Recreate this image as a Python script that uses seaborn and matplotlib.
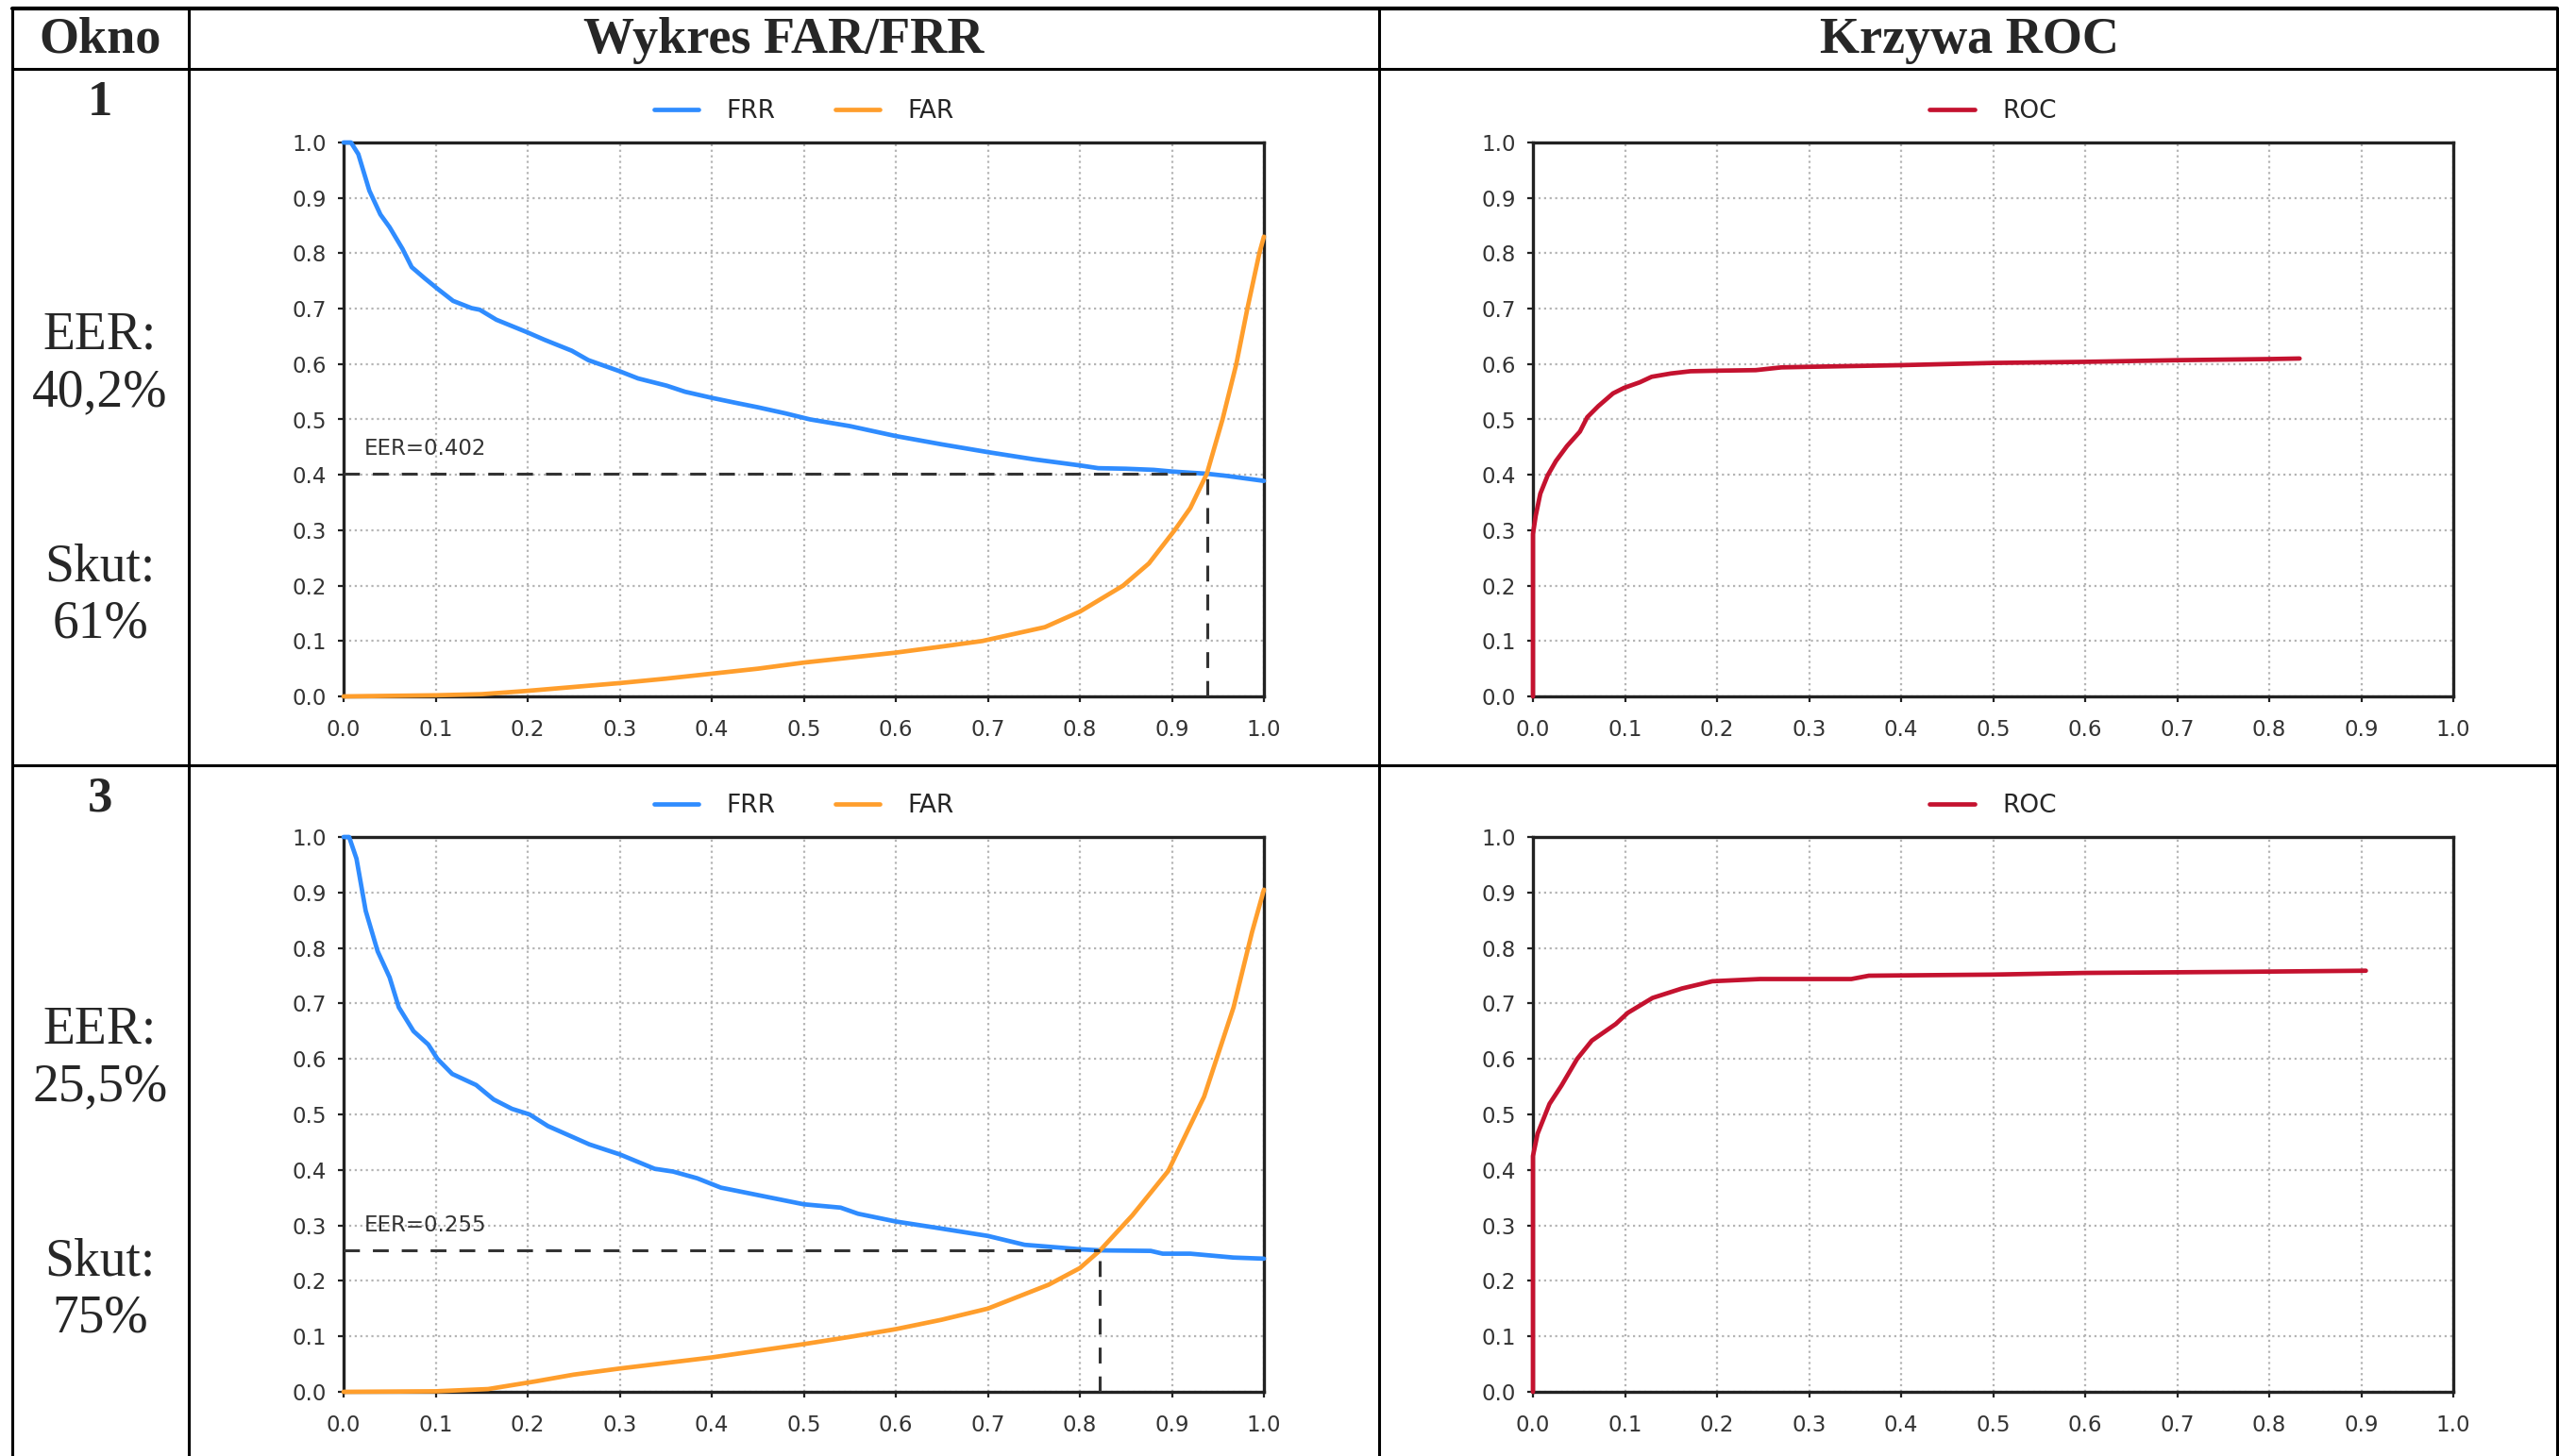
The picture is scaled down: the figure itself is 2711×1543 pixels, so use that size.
import matplotlib
matplotlib.use("Agg")
import matplotlib.pyplot as plt
import seaborn as sns
import pandas as pd
from matplotlib.lines import Line2D

# ---------------- data ----------------
frr1_x = [0, 0.008, 0.016, 0.028, 0.04, 0.05, 0.064, 0.074, 0.088, 0.102, 0.119, 0.139, 0.148, 0.166,
          0.2, 0.218, 0.248, 0.266, 0.3, 0.32, 0.351, 0.371, 0.4, 0.426, 0.45, 0.48, 0.507, 0.55, 0.6,
          0.65, 0.7, 0.75, 0.8, 0.82, 0.85, 0.88, 0.9, 0.938, 0.96, 1.0]
frr1_y = [1.0, 1.0, 0.979, 0.913, 0.870, 0.847, 0.808, 0.775, 0.755, 0.736, 0.714, 0.701, 0.698, 0.680,
          0.657, 0.644, 0.624, 0.607, 0.587, 0.574, 0.561, 0.55, 0.539, 0.530, 0.522, 0.511, 0.5, 0.488,
          0.47, 0.455, 0.441, 0.428, 0.417, 0.412, 0.411, 0.409, 0.406, 0.402, 0.398, 0.389]
far1_x = [0, 0.1, 0.15, 0.2, 0.25, 0.3, 0.35, 0.4, 0.45, 0.5, 0.55, 0.6, 0.65, 0.694, 0.762, 0.8,
          0.847, 0.875, 0.903, 0.92, 0.938, 0.955, 0.97, 0.982, 0.995, 1.0]
far1_y = [0, 0.002, 0.004, 0.01, 0.017, 0.024, 0.032, 0.041, 0.05, 0.061, 0.07, 0.079, 0.09, 0.1,
          0.125, 0.153, 0.2, 0.24, 0.3, 0.34, 0.402, 0.5, 0.6, 0.7, 0.8, 0.83]
roc1_x = [0, 0, 0.003, 0.008, 0.016, 0.025, 0.037, 0.051, 0.059, 0.071, 0.087, 0.099, 0.116, 0.129,
          0.15, 0.171, 0.2, 0.242, 0.27, 0.3, 0.4, 0.5, 0.6, 0.7, 0.8, 0.833]
roc1_y = [0, 0.293, 0.326, 0.366, 0.399, 0.425, 0.452, 0.478, 0.504, 0.524, 0.547, 0.557, 0.567, 0.577,
          0.583, 0.587, 0.588, 0.589, 0.594, 0.595, 0.598, 0.602, 0.604, 0.607, 0.609, 0.61]
eer1, eer1_x = 0.402, 0.938

frr3_x = [0, 0.006, 0.014, 0.024, 0.037, 0.05, 0.06, 0.076, 0.092, 0.102, 0.118, 0.144, 0.163, 0.183,
          0.202, 0.222, 0.267, 0.3, 0.338, 0.358, 0.384, 0.41, 0.449, 0.5, 0.54, 0.559, 0.6, 0.643, 0.7,
          0.74, 0.8, 0.822, 0.877, 0.89, 0.92, 0.967, 1.0]
frr3_y = [1.0, 1.0, 0.961, 0.867, 0.794, 0.747, 0.693, 0.65, 0.626, 0.6, 0.573, 0.553, 0.527, 0.51,
          0.5, 0.479, 0.446, 0.428, 0.402, 0.397, 0.385, 0.368, 0.355, 0.338, 0.332, 0.321, 0.307, 0.296,
          0.281, 0.265, 0.257, 0.255, 0.254, 0.249, 0.249, 0.242, 0.24]
far3_x = [0, 0.1, 0.157, 0.209, 0.25, 0.3, 0.35, 0.4, 0.45, 0.5, 0.55, 0.6, 0.65, 0.7, 0.766, 0.8,
          0.822, 0.857, 0.896, 0.935, 0.967, 0.987, 1.0]
far3_y = [0, 0.001, 0.005, 0.019, 0.031, 0.042, 0.052, 0.062, 0.074, 0.086, 0.099, 0.113, 0.13, 0.15,
          0.193, 0.223, 0.255, 0.318, 0.398, 0.532, 0.693, 0.828, 0.905]
roc3_x = [0, 0, 0.005, 0.018, 0.031, 0.048, 0.064, 0.09, 0.103, 0.13, 0.162, 0.195, 0.247, 0.346,
          0.365, 0.5, 0.6, 0.771, 0.905]
roc3_y = [0, 0.425, 0.465, 0.519, 0.552, 0.6, 0.633, 0.663, 0.683, 0.71, 0.727, 0.74, 0.744, 0.744,
          0.75, 0.752, 0.755, 0.757, 0.759]
eer3, eer3_x = 0.255, 0.822

header_labels = ["Okno", "Wykres FAR/FRR", "Krzywa ROC"]
window_labels = ["1", "3"]
eer_labels = ["EER:\n40,2%", "EER:\n25,5%"]
skut_labels = ["Skut:\n61%", "Skut:\n75%"]
ticks = [0.0, 0.1, 0.2, 0.3, 0.4, 0.5, 0.6, 0.7, 0.8, 0.9, 1.0]

# ---------------- style ----------------
sns.set_theme(style="white")
plt.rcParams["font.family"] = ["DejaVu Sans"]

C_FRR = "#2f8cff"
C_FAR = "#ff9e2c"
C_ROC = "#c4122f"
DARK = "#333333"
LW = 3.4

W, H = 2711, 1543
fig = plt.figure(figsize=(W / 100, H / 100), dpi=100)
fig.patch.set_facecolor("white")


def px_rect(x0, y0, x1, y1):
    return [x0 / W, 1 - y1 / H, (x1 - x0) / W, (y1 - y0) / H]


def style_axes(ax):
    ax.set_xlim(0, 1)
    ax.set_ylim(0, 1)
    ax.set_xticks(ticks)
    ax.set_yticks(ticks)
    ax.set_xticklabels([f"{t:.1f}" for t in ticks])
    ax.set_yticklabels([f"{t:.1f}" for t in ticks])
    ax.grid(True, linestyle=":", color="#b4b4b4", linewidth=1.6)
    for s in ax.spines.values():
        s.set_color("#222222")
        s.set_linewidth(2.4)
        s.set_visible(True)
    ax.tick_params(direction="out", length=4, width=1.6, color="#222222",
                   labelsize=16.5, labelcolor=DARK, bottom=True, left=True)
    ax.tick_params(axis="x", pad=13)
    ax.tick_params(axis="y", pad=9)
    ax.set_xlabel("")
    ax.set_ylabel("")
    ax.set_facecolor("white")


def far_frr_panel(rect, fx, fy, ax_, ay, eer, eer_x):
    ax = fig.add_axes(rect)
    sns.lineplot(x=fx, y=fy, ax=ax, color=C_FRR, linewidth=LW, label="FRR",
                 estimator=None, sort=False, clip_on=False, zorder=3)
    sns.lineplot(x=ax_, y=ay, ax=ax, color=C_FAR, linewidth=LW, label="FAR",
                 estimator=None, sort=False, clip_on=False, zorder=3)
    ax.hlines(eer, 0, eer_x, colors=DARK, linestyles=(0, (5.5, 4.5)), linewidth=2.2, zorder=4)
    ax.vlines(eer_x, 0, eer, colors=DARK, linestyles=(0, (5.5, 4.5)), linewidth=2.2, zorder=4)
    ax.text(0.022, eer + 0.045, f"EER={eer}", fontsize=16.5, color=DARK, va="center", ha="left")
    style_axes(ax)
    ax.legend(loc="center", bbox_to_anchor=(0.5, 1.056), ncol=2, frameon=False, fontsize=19,
              handlelength=1.8, handletextpad=1.1, columnspacing=2.4)
    return ax


def roc_panel(rect, rx, ry):
    ax = fig.add_axes(rect)
    sns.lineplot(x=rx, y=ry, ax=ax, color=C_ROC, linewidth=LW, label="ROC",
                 estimator=None, sort=False, clip_on=False, zorder=3)
    style_axes(ax)
    ax.legend(loc="center", bbox_to_anchor=(0.5, 1.056), ncol=1, frameon=False, fontsize=19,
              handlelength=1.8, handletextpad=1.1)
    return ax


far_frr_panel(px_rect(364, 151, 1339, 738), frr1_x, frr1_y, far1_x, far1_y, eer1, eer1_x)
roc_panel(px_rect(1624, 151, 2599, 738), roc1_x, roc1_y)
far_frr_panel(px_rect(364, 887, 1339, 1475), frr3_x, frr3_y, far3_x, far3_y, eer3, eer3_x)
roc_panel(px_rect(1624, 887, 2599, 1475), roc3_x, roc3_y)

# ---------------- table frame ----------------
def hline(y, x0=13, x1=2709, lw=2.2):
    fig.add_artist(Line2D([x0 / W, x1 / W], [1 - y / H, 1 - y / H], color="black",
                          linewidth=lw, transform=fig.transFigure))


def vline(x, y0=9, y1=1543, lw=2.2):
    fig.add_artist(Line2D([x / W, x / W], [1 - y0 / H, 1 - y1 / H], color="black",
                          linewidth=lw, transform=fig.transFigure))


hline(9, lw=3.0)
hline(73)
hline(811)
vline(13)
vline(200)
vline(1461)
vline(2709)

SERIF = ["Liberation Serif", "DejaVu Serif"]
header_x = [106, 830, 2086]
for lab, hx in zip(header_labels, header_x):
    fig.text(hx / W, 1 - 43 / H, lab, ha="center", va="center", fontsize=39,
             fontweight="bold", family=SERIF)

row_y = [(109, 386, 632), (847, 1122, 1367)]
for i in range(2):
    y_win, y_eer, y_sk = row_y[i]
    fig.text(106 / W, 1 - y_win / H, window_labels[i], ha="center", va="center", fontsize=38,
             fontweight="bold", family=SERIF)
    fig.text(106 / W, 1 - y_eer / H, eer_labels[i], ha="center", va="center", fontsize=40,
             family=SERIF, linespacing=1.2)
    fig.text(106 / W, 1 - y_sk / H, skut_labels[i], ha="center", va="center", fontsize=40,
             family=SERIF, linespacing=1.2)

fig.savefig("out.png", dpi=100, facecolor="white")
